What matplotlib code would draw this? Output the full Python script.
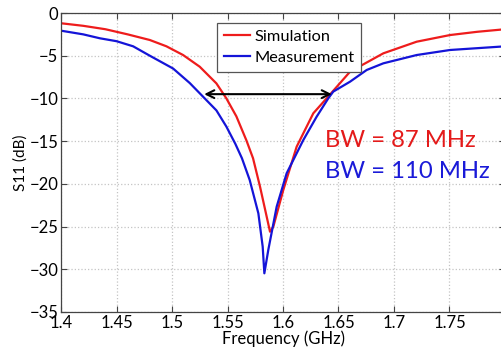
import matplotlib
matplotlib.use('Agg')
import matplotlib.pyplot as plt

plt.rcParams['font.family'] = ['Lato', 'DejaVu Sans']

# 仿真曲线 (GHz, dB)
sim_freq = [1.400, 1.420, 1.440, 1.460, 1.480, 1.495, 1.510, 1.525, 1.540, 1.549,
            1.558, 1.567, 1.573, 1.5793, 1.5883, 1.5913, 1.6003, 1.6123, 1.6273,
            1.6393, 1.6604, 1.6904, 1.7204, 1.7505, 1.7750, 1.800]
sim_s11 = [-1.2, -1.5, -1.9, -2.5, -3.16, -3.9, -4.92, -6.29, -8.24, -10.0,
           -12.1, -14.9, -17.0, -20.33, -25.6, -25.0, -20.7, -15.65, -11.74,
           -9.99, -6.87, -4.72, -3.36, -2.58, -2.2, -1.9]

# 测量曲线 (GHz, dB)
meas_freq = [1.400, 1.420, 1.435, 1.450, 1.465, 1.480, 1.501, 1.516, 1.528, 1.540,
             1.549, 1.557, 1.563, 1.570, 1.5778, 1.5817, 1.5832, 1.5868, 1.5943,
             1.6033, 1.6183, 1.6303, 1.6408, 1.6453, 1.6604, 1.6754, 1.6904,
             1.7204, 1.7505, 1.7955, 1.800]
meas_s11 = [-2.07, -2.5, -2.96, -3.3, -3.9, -5.0, -6.5, -8.2, -9.8, -11.4,
            -13.3, -15.3, -17.0, -19.55, -23.45, -27.35, -30.47, -27.7, -22.67,
            -18.76, -14.87, -12.14, -9.99, -9.2, -8.04, -6.67, -5.89,
            -4.92, -4.33, -3.94, -3.9]

# -10 dB 带宽箭头
arrow_start = 1.529
arrow_end = 1.644
arrow_level = -9.5

xticks = [1.4, 1.45, 1.5, 1.55, 1.6, 1.65, 1.7, 1.75]
xtick_labels = ['1.4', '1.45', '1.5', '1.55', '1.6', '1.65', '1.7', '1.75']
yticks = [0, -5, -10, -15, -20, -25, -30, -35]


def main():
    fig = plt.figure(figsize=(5.01, 3.56), dpi=100)
    ax = fig.add_axes([61 / 501, 44 / 356, 444 / 501, 299 / 356])

    ax.plot(sim_freq, sim_s11, color='#ee1c1c', lw=1.6, label='Simulation')
    ax.plot(meas_freq, meas_s11, color='#1414d8', lw=1.6, label='Measurement')

    ax.annotate('', xy=(arrow_start, arrow_level), xytext=(arrow_end, arrow_level),
                arrowprops=dict(arrowstyle='<->', color='black', lw=1.5,
                                shrinkA=0, shrinkB=0, mutation_scale=14))

    # 带宽标注
    ax.text(1.6376, -15.69, 'BW = 87 MHz', color='#e41a1a', fontsize=17.2,
            va='baseline')
    ax.text(1.6376, -19.31, 'BW = 110 MHz', color='#1a1ad8', fontsize=17.2,
            va='baseline')

    ax.set_xlim(1.4, 1.8)
    ax.set_ylim(-35, 0)
    ax.set_xticks(xticks)
    ax.set_xticklabels(xtick_labels)
    ax.set_yticks(yticks)
    ax.tick_params(direction='in', top=True, right=True, labelsize=12,
                   length=4, color='#444444', pad=2)
    for s in ax.spines.values():
        s.set_color('#444444')
        s.set_linewidth(0.9)
    ax.grid(True, linestyle=':', color='#c4c4c4', lw=0.9)

    ax.set_xlabel('Frequency (GHz)', fontsize=12, labelpad=0)
    ax.set_ylabel('S11 (dB)', fontsize=11, labelpad=1)

    leg = ax.legend(loc='upper left', bbox_to_anchor=(217 / 501, 1 - 23 / 356),
                    bbox_transform=fig.transFigure, borderaxespad=0,
                    fontsize=11.8, handlelength=1.6, handletextpad=0.3,
                    fancybox=False, framealpha=1, borderpad=0.4,
                    labelspacing=0.4)
    leg.get_frame().set_edgecolor('#555555')
    leg.get_frame().set_linewidth(0.9)

    fig.savefig('out.png', dpi=100)


if __name__ == '__main__':
    main()
